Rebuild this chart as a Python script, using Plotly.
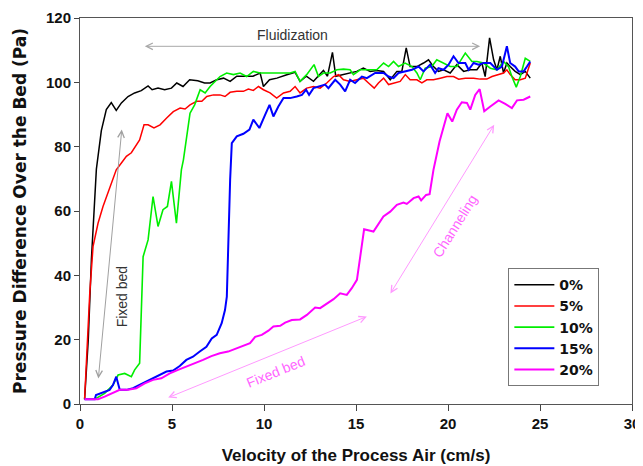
import plotly.graph_objects as go

# ---------------- data ----------------
series_names = ["0%", "5%", "10%", "15%", "20%"]
series_colors = ["#000000", "#ff0000", "#00ee00", "#0000ff", "#ff00ff"]

x_0 = [0.25, 0.45, 0.62, 0.75, 0.89, 1.16, 1.43, 1.70, 1.97, 2.25, 2.61, 2.97, 3.33, 3.70, 3.92,
       4.24, 4.60, 4.97, 5.26, 5.60, 5.96, 6.40, 6.77, 7.07, 7.43, 7.80, 8.16, 8.52, 9.00, 9.40,
       9.79, 9.97, 10.30, 10.70, 11.20, 11.69, 11.96, 12.30, 12.69, 13.00, 13.23, 13.45, 13.72,
       13.90, 14.20, 14.68, 15.04, 15.40, 15.77, 16.13, 16.50, 16.86, 17.22, 17.49, 17.73, 17.94,
       18.31, 18.67, 18.94, 19.21, 19.48, 19.76, 20.12, 20.48, 20.85, 21.21, 21.57, 21.84, 22.02,
       22.26, 22.48, 22.66, 22.84, 23.02, 23.20, 23.38, 23.65, 23.93, 24.20, 24.47]
y_0 = [1.5, 20, 45, 60, 73, 85, 91.5, 93.7, 91.3, 93.6, 95.6, 96.7, 97.4, 98.9, 97.7,
       98.2, 97.7, 98.2, 99.8, 98.7, 100.8, 100.5, 99.8, 99.8, 100.8, 101.3, 100.3, 101.9, 101.9, 101.9,
       102.9, 98.7, 100.8, 101.3, 102.3, 103.1, 100.3, 101.9, 100.3, 102.3, 103.7, 101.9, 109.3,
       101.9, 102.3, 102.9, 103.4, 104.4, 103.4, 103.7, 103.4, 100.8, 103.4, 103.4, 110.7, 104.9,
       104.9, 106.0, 107.0, 104.9, 103.4, 103.9, 102.9, 105.5, 103.4, 103.9, 103.9, 106.0, 101.8,
       113.8, 107.0, 103.9, 108.1, 102.9, 106.0, 104.9, 103.4, 102.4, 103.4, 101.3]

x_5 = [0.25, 0.53, 0.71, 0.98, 1.25, 1.52, 1.79, 1.97, 2.25, 2.52, 2.79, 3.06, 3.24, 3.48, 3.70,
       4.02, 4.35, 4.71, 5.07, 5.44, 5.71, 5.98, 6.34, 6.62, 6.89, 7.25, 7.61, 7.88, 8.16, 8.52,
       8.88, 9.15, 9.42, 9.70, 9.97, 10.33, 10.69, 11.06, 11.42, 11.69, 11.96, 12.32, 12.69, 13.05,
       13.41, 13.78, 14.05, 14.32, 14.68, 15.04, 15.40, 15.68, 15.99, 16.22, 16.50, 16.77, 17.04,
       17.40, 17.68, 17.94, 18.31, 18.58, 18.85, 19.21, 19.58, 19.94, 20.30, 20.58, 20.94, 21.39,
       21.75, 22.11, 22.39, 22.75, 23.02, 23.20, 23.38, 23.65, 23.93, 24.20, 24.47]
y_5 = [1.5, 34.4, 49.0, 56.2, 61.4, 65.6, 69.7, 72.8, 74.9, 77.0, 78.1, 80.6, 82.1, 86.8, 86.8,
       85.8, 86.8, 88.9, 90.9, 92.0, 91.7, 93.0, 94.1, 94.1, 95.6, 96.1, 96.1, 95.6, 96.9, 97.2,
       97.2, 97.9, 97.5, 98.7, 97.7, 96.7, 95.1, 96.7, 97.2, 98.7, 96.7, 98.2, 98.7, 98.2,
       99.8, 101.8, 102.4, 100.8, 100.3, 100.8, 101.3, 99.8, 98.2, 99.8, 101.3, 99.3, 99.8,
       100.3, 102.4, 100.8, 100.8, 99.8, 100.8, 100.8, 101.3, 101.8, 101.8, 101.0, 101.3, 101.3,
       101.0, 101.0, 101.8, 102.4, 102.9, 103.9, 102.4, 100.8, 100.8, 101.3, 106.0]

x_10 = [0.25, 0.80, 1.34, 1.79, 2.07, 2.43, 2.79, 2.97, 3.24, 3.43, 3.70, 3.97, 4.24, 4.51, 4.75,
        4.97, 5.24, 5.51, 5.62, 5.98, 6.23, 6.53, 6.80, 7.07, 7.61, 7.97, 8.34, 8.70, 9.06, 9.42,
        9.79, 10.15, 10.51, 10.88, 11.42, 11.69, 11.96, 12.32, 12.72, 12.96, 13.23, 13.60, 13.96,
        14.32, 14.68, 14.86, 15.23, 15.77, 16.13, 16.50, 16.77, 17.04, 17.31, 17.67, 18.04, 18.31,
        18.49, 18.76, 19.12, 19.39, 19.76, 20.12, 20.48, 20.94, 21.30, 21.57, 21.93, 22.30, 22.66,
        23.02, 23.29, 23.47, 23.71, 23.93, 24.20, 24.47]
y_10 = [1.5, 1.5, 3.3, 5.9, 9.0, 9.5, 8.5, 10.6, 12.7, 45.8, 51.0, 64.5, 55.2, 60.4, 61.4,
        69.2, 56.2, 72.8, 75.9, 90.4, 93.0, 97.7, 96.7, 98.7, 101.8, 102.9, 102.4, 102.9, 101.8, 103.4,
        102.9, 102.9, 102.9, 102.9, 102.9, 103.4, 100.3, 102.4, 105.5, 101.8, 102.9, 102.9, 103.9,
        104.1, 103.9, 102.4, 103.9, 103.9, 103.9, 106.0, 104.9, 106.5, 104.9, 106.0, 104.9, 102.9,
        100.8, 104.4, 104.9, 107.0, 106.0, 104.9, 104.9, 109.1, 106.5, 106.5, 106.0, 104.4, 103.9,
        106.5, 104.9, 101.8, 98.5, 101.8, 107.5, 106.5]

x_15 = [0.25, 0.80, 0.87, 1.34, 1.61, 1.79, 1.97, 2.16, 2.52, 2.88, 3.24, 3.61, 3.97, 4.33, 4.70,
        5.06, 5.42, 5.78, 6.14, 6.51, 6.87, 7.16, 7.43, 7.70, 7.88, 7.98, 8.07, 8.16, 8.25, 8.52,
        8.88, 9.21, 9.42, 9.75, 10.06, 10.30, 10.51, 10.78, 11.06, 11.42, 11.78, 12.06, 12.29, 12.45,
        12.69, 13.05, 13.32, 13.50, 13.87, 14.14, 14.41, 14.68, 14.95, 15.32, 15.59, 16.04, 16.50,
        16.77, 17.04, 17.31, 17.67, 18.04, 18.40, 18.67, 19.03, 19.30, 19.48, 19.76, 20.03, 20.30,
        20.57, 20.94, 21.12, 21.39, 21.66, 21.93, 22.30, 22.66, 22.93, 23.20, 23.38, 23.65, 23.84,
        24.11, 24.29, 24.47]
y_15 = [1.5, 1.5, 2.8, 3.8, 4.4, 5.9, 8.5, 4.4, 4.4, 4.9, 5.9, 6.9, 8.0, 9.0, 10.1,
        10.4, 11.8, 13.7, 14.7, 16.3, 17.8, 20.4, 21.5, 25.1, 29.2, 33.4, 54.1, 69.7, 81.1, 83.2,
        84.0, 85.3, 88.4, 85.8, 89.9, 93.0, 89.4, 92.5, 95.1, 95.1, 95.6, 96.1, 97.7, 96.1,
        98.2, 98.7, 99.3, 98.2, 100.8, 99.3, 97.2, 100.8, 99.8, 101.8, 101.3, 102.9, 102.9,
        101.8, 101.3, 102.9, 103.4, 103.9, 104.9, 103.4, 105.5, 102.9, 104.4, 103.9, 105.5, 108.1,
        106.0, 106.0, 103.9, 106.0, 105.5, 106.0, 106.0, 103.9, 104.9, 111.2, 106.0, 104.9, 103.4,
        103.4, 104.9, 106.5]

x_20 = [0.25, 0.98, 1.34, 1.70, 2.16, 2.61, 3.06, 3.52, 3.97, 4.42, 4.88, 5.33, 5.78, 6.24, 6.69,
        7.14, 7.60, 8.05, 8.50, 8.95, 9.24, 9.52, 9.88, 10.24, 10.51, 10.88, 11.15, 11.51, 11.96,
        12.33, 12.78, 13.05, 13.41, 13.78, 14.14, 14.50, 14.77, 14.95, 15.05, 15.23, 15.44, 15.95,
        16.49, 16.86, 17.22, 17.58, 17.76, 18.13, 18.40, 18.54, 18.81, 19.00, 19.21, 19.54, 19.76,
        19.97, 20.23, 20.48, 20.75, 21.03, 21.21, 21.48, 21.72, 21.97, 22.30, 22.75, 23.11, 23.47,
        23.75, 24.11, 24.47]
y_20 = [1.5, 1.5, 2.3, 3.3, 4.4, 4.4, 4.9, 6.4, 7.5, 8.0, 9.5, 10.6, 11.6, 12.7, 13.7,
        14.9, 15.8, 16.3, 17.3, 18.4, 18.9, 20.9, 21.5, 22.8, 24.1, 24.3, 25.3, 26.1, 26.3,
        27.7, 30.0, 29.8, 31.1, 32.6, 34.4, 33.9, 36.0, 37.6, 38.6, 45.8, 54.3, 53.6,
        58.3, 59.8, 61.9, 62.6, 62.2, 64.0, 64.5, 63.3, 65.0, 65.2, 72.8, 81.6, 85.8,
        90.4, 87.8, 91.5, 93.8, 93.6, 91.5, 96.1, 97.9, 91.0, 92.5, 94.4, 93.3, 92.0,
        94.4, 94.6, 95.6]

series_x = [x_0, x_5, x_10, x_15, x_20]
series_y = [y_0, y_5, y_10, y_15, y_20]
series_widths = [1.5, 1.5, 1.6, 2.0, 2.0]

x_ticks = [0, 5, 10, 15, 20, 25, 30]
y_ticks = [0, 20, 40, 60, 80, 100, 120]

# annotation arrows: (tail_x, tail_y, head_x, head_y)
fluid_arrow = (3.44, 111.2, 21.75, 111.2)
fixed_arrow_gray = (0.99, 7.5, 2.27, 85.3)
fixed_arrow_mag = (4.71, 1.8, 15.59, 27.2)
channel_arrow = (16.82, 33.9, 22.51, 86.8)

# ---------------- figure ----------------
fig = go.Figure()
for name, xs, ys, col, w in zip(series_names, series_x, series_y, series_colors, series_widths):
    fig.add_trace(go.Scatter(x=xs, y=ys, mode="lines", name=name,
                             line=dict(color=col, width=w)))

def arrow(a, color):
    tx, ty, hx, hy = a
    return dict(x=hx, y=hy, ax=tx, ay=ty, xref="x", yref="y", axref="x", ayref="y",
                text="", showarrow=True, arrowhead=5, startarrowhead=5,
                arrowside="end+start", arrowsize=1.3, startarrowsize=1.3,
                arrowwidth=1, arrowcolor=color, standoff=0, startstandoff=0)

ann_font = "Liberation Sans, Arial, sans-serif"
annotations = [
    arrow(fluid_arrow, "#a8a8a8"),
    arrow(fixed_arrow_gray, "#a0a0a0"),
    arrow(fixed_arrow_mag, "#ff99ff"),
    arrow(channel_arrow, "#ff99ff"),
    dict(x=11.56, y=114.8, xref="x", yref="y", text="Fluidization", showarrow=False,
         font=dict(family=ann_font, size=14, color="#333333")),
    dict(x=2.27, y=33.4, xref="x", yref="y", text="Fixed bed", showarrow=False, textangle=-90,
         font=dict(family=ann_font, size=14, color="#333333")),
    dict(x=10.6, y=10.0, xref="x", yref="y", text="Fixed bed", showarrow=False, textangle=-22,
         font=dict(family=ann_font, size=14, color="#ff66ff")),
    dict(x=20.39, y=55.2, xref="x", yref="y", text="Channeling", showarrow=False, textangle=-58,
         font=dict(family=ann_font, size=14, color="#ff66ff")),
]

tick_font = dict(family="Liberation Sans, Arial, sans-serif", size=15, color="#111111")

# the page places the figure 8px in from the top-left corner, so the figure is
# sized to the remaining window area
fig.update_layout(
    width=635, height=458, autosize=False,
    margin=dict(l=72, r=11, t=10, b=62, pad=0),
    paper_bgcolor="white", plot_bgcolor="white",
    showlegend=True,
    legend=dict(x=0.776, y=0.352, xanchor="left", yanchor="top",
                bgcolor="white", bordercolor="#777777", borderwidth=1,
                font=dict(family="DejaVu Sans, sans-serif", size=14, color="#111111",
                          weight="bold"),
                itemwidth=40, tracegroupgap=0),
    annotations=annotations,
    xaxis=dict(range=[0, 30], tickvals=x_ticks, ticktext=[str(v) for v in x_ticks],
               ticks="outside", ticklen=6, tickcolor="#444444", tickwidth=1,
               showline=True, linecolor="#555555", linewidth=1, mirror=True,
               showgrid=False, zeroline=False, automargin=False,
               tickfont=dict(tick_font, weight="bold"),
               title=dict(text="Velocity of the Process Air (cm/s)", standoff=18,
                          font=dict(family="Liberation Sans, Arial, sans-serif", size=17,
                                    color="#111111", weight="bold"))),
    yaxis=dict(range=[0, 120], tickvals=y_ticks, ticktext=[str(v) for v in y_ticks],
               ticks="outside", ticklen=5, tickcolor="#444444", tickwidth=1,
               showline=True, linecolor="#555555", linewidth=1, mirror=True,
               showgrid=False, zeroline=False, automargin=False,
               tickfont=dict(tick_font, weight="bold"),
               title=dict(text="Pressure Difference Over the Bed (Pa)", standoff=15,
                          font=dict(family="DejaVu Sans, sans-serif", size=17,
                                    color="#111111", weight="bold"))),
)

fig.write_html("out.html")
